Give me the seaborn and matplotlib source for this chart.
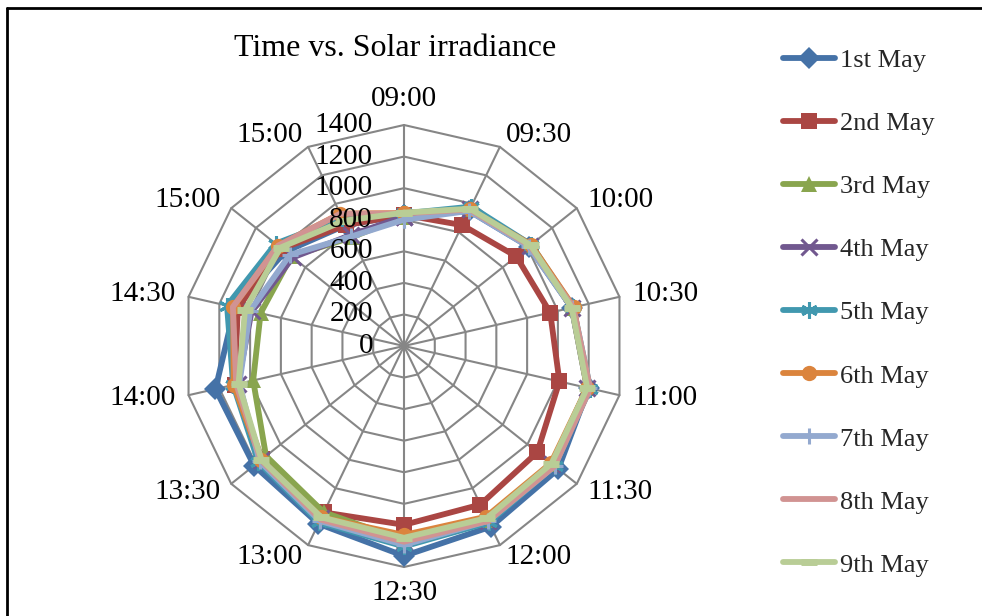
import numpy as np
import pandas as pd
import matplotlib
matplotlib.use("Agg")
import matplotlib.pyplot as plt
import seaborn as sns

# categories around the radar (clockwise from top)
times = ["09:00", "09:30", "10:00", "10:30", "11:00", "11:30", "12:00",
         "12:30", "13:00", "13:30", "14:00", "14:30", "15:00", "15:00"]

may_1 = [830, 950, 1010, 1090, 1200, 1250, 1270, 1330, 1250, 1215, 1225, 1100, 960, 850]
may_2 = [830, 850, 910, 950, 1010, 1080, 1115, 1133, 1170, 1150, 1100, 1080, 990, 850]
may_3 = [820, 960, 1030, 1090, 1190, 1200, 1220, 1230, 1170, 1118, 980, 932, 912, 764]
may_4 = [820, 960, 1020, 1090, 1190, 1200, 1230, 1240, 1210, 1160, 1080, 990, 900, 780]
may_5 = [840, 980, 1030, 1100, 1210, 1220, 1240, 1270, 1240, 1180, 1110, 1150, 1040, 900]
may_6 = [842, 960, 1030, 1104, 1190, 1190, 1200, 1197, 1205, 1160, 1107, 1110, 1020, 931]
may_7 = [800, 950, 1010, 1090, 1200, 1220, 1230, 1260, 1230, 1170, 1070, 1000, 925, 770]
may_8 = [840, 960, 1020, 1100, 1210, 1220, 1230, 1240, 1220, 1160, 1090, 1112, 1020, 930]
may_9 = [845, 965, 1025, 1090, 1190, 1195, 1210, 1215, 1205, 1155, 1075, 1033, 1000, 880]

labels = ["1st May", "2nd May", "3rd May", "4th May", "5th May",
          "6th May", "7th May", "8th May", "9th May"]
series = [may_1, may_2, may_3, may_4, may_5, may_6, may_7, may_8, may_9]

r_ticks = [0, 200, 400, 600, 800, 1000, 1200, 1400]

colors = ["#4572A7", "#AA4643", "#89A54E", "#71588F", "#4198AF",
          "#DB843D", "#93A9CF", "#D19392", "#B9CD96"]
markers = ["D", "s", "^", "x", (6, 2, 0), "o", "+", None, "_"]

sns.set_theme(style="white")
plt.rcParams["font.family"] = ["Liberation Serif", "DejaVu Serif"]

W, H = 982, 616
fig = plt.figure(figsize=(W / 100, H / 100), dpi=100)

# axes in value units, centre of radar at pixel (404, 346), 1400 -> 221 px
cx, cy, R = 404, 346, 221
upp = r_ticks[-1] / R
hw, hh = 250, 262
ax = fig.add_axes([(cx - hw) / W, (H - cy - hh) / H, 2 * hw / W, 2 * hh / H])
ax.set_xlim(-hw * upp, hw * upp)
ax.set_ylim(-hh * upp, hh * upp)
ax.axis("off")

n = len(times)
theta = np.arange(n) * 2 * np.pi / n
grid_col = "#868686"

# polygon grid + spokes
for rv in r_ticks[1:]:
    gx = np.append(rv * np.sin(theta), rv * np.sin(theta[0]))
    gy = np.append(rv * np.cos(theta), rv * np.cos(theta[0]))
    ax.plot(gx, gy, color=grid_col, lw=1.5, zorder=1)
for t in theta:
    ax.plot([0, r_ticks[-1] * np.sin(t)], [0, r_ticks[-1] * np.cos(t)],
            color=grid_col, lw=1.5, zorder=1)

# series
for vals, lab, col, mk in zip(series, labels, colors, markers):
    v = np.append(vals, vals[0])
    th = np.append(theta, theta[0])
    df = pd.DataFrame({"x": v * np.sin(th), "y": v * np.cos(th)})
    mew = 2.2 if mk in ["x", "+", (6, 2, 0)] else (5 if mk == "_" else 0)
    ms = 12 if mk in ["x", "+", (6, 2, 0), "_"] else 11
    sns.lineplot(data=df, x="x", y="y", sort=False, estimator=None, ax=ax,
                 color=col, lw=4.2, marker=mk, markersize=ms,
                 markeredgewidth=mew, markeredgecolor=col, label=lab, zorder=3)

# category labels
rl = r_ticks[-1] + 13 * upp
for t, name in zip(theta, times):
    s, c = np.sin(t), np.cos(t)
    ha = "left" if s > 0.1 else ("right" if s < -0.1 else "center")
    va = "bottom" if c > 0.95 else ("top" if c < -0.95 else "center")
    ax.text(rl * s, rl * c, name, ha=ha, va=va, fontsize=21, color="black")

# radial value labels
for rv in r_ticks:
    ax.text(-31 * upp, rv, str(rv), ha="right", va="center", fontsize=21, color="black")

fig.text(395 / W, 1 - 49 / H, "Time vs. Solar irradiance", ha="center", va="center",
         fontsize=23, color="black")

leg = ax.legend(loc="upper left", bbox_to_anchor=(759 / W, 1 - 25 / H),
                bbox_transform=fig.transFigure, frameon=False, fontsize=19,
                handlelength=1.97, handletextpad=0.2, labelspacing=1.5)
for h in leg.legend_handles:
    h.set_linewidth(4.2)

# chart area border (top and left)
fig.add_artist(plt.Line2D([7 / W, 1.0], [1 - 8 / H, 1 - 8 / H], transform=fig.transFigure,
                          color="black", lw=2))
fig.add_artist(plt.Line2D([7 / W, 7 / W], [0, 1 - 8 / H], transform=fig.transFigure,
                          color="black", lw=2))

fig.savefig("out.png", dpi=100, facecolor="white")
